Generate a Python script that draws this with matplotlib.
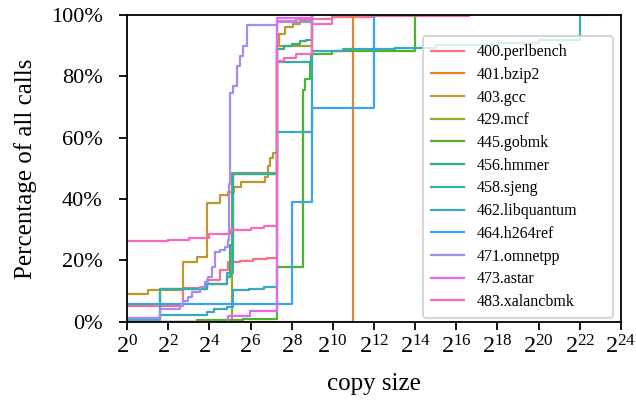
import matplotlib
matplotlib.use("Agg")
import matplotlib.pyplot as plt
from matplotlib.ticker import PercentFormatter, NullLocator
import seaborn as sns

names = ["400.perlbench", "401.bzip2", "403.gcc", "429.mcf", "445.gobmk",
         "456.hmmer", "458.sjeng", "462.libquantum", "464.h264ref",
         "471.omnetpp", "473.astar", "483.xalancbmk"]

perl_x = [1, 6.6, 14.6, 22.8, 30, 45, 70, 110, 154, 300, 1000, 4000, 99000]
perl_y = [5.2, 11, 13.5, 16.8, 19.3, 19.8, 20.3, 20.8, 98, 98.8, 99.3, 99.7, 100]

bzip_x = [1, 2048]
bzip_y = [0, 100]

gcc_x = [1, 2, 6.6, 10.5, 14.6, 22.8, 30, 37, 47, 104, 117, 123, 138, 154, 165, 204, 269, 338, 500]
gcc_y = [9, 10.2, 19.4, 21, 38.6, 41.3, 42.4, 44, 45.5, 47.3, 50.6, 53.3, 55, 90.5, 93.8, 96, 97, 98, 100]

mcf_x = [1, 34, 154, 500]
mcf_y = [0, 48.4, 90, 100]

gobmk_x = [1, 10.4, 50, 100, 154, 377, 400, 474, 495, 983, 16384]
gobmk_y = [0, 0.6, 0.8, 1.0, 17.7, 75.7, 79, 84.6, 87.2, 88.3, 100]

hmmer_x = [1, 3, 14.6, 29, 32, 35, 154, 200, 260, 340, 420, 500]
hmmer_y = [1.2, 10.5, 12.3, 14.5, 25, 48, 89, 89.8, 90.6, 91.4, 92, 100]

sjeng_x = [1, 3, 14.6, 29, 35, 154, 500]
sjeng_y = [0.6, 10.5, 12.3, 16, 48.2, 84.6, 100]

libq_x = [1, 3, 14.6, 19, 28.6, 36, 60, 100, 154, 500, 1450, 8192, 32768,
          262144, 1048576, 4194304, 8388608]
libq_y = [0.9, 2.3, 3.1, 4.1, 4.9, 10.4, 10.8, 11.2, 62, 88.2, 88.8, 89.3, 90.2,
          91, 91.8, 99.9, 100]

h264_x = [1, 256, 500, 4096]
h264_y = [5.8, 39, 69.7, 100]

omnet_x = [1, 3, 6, 6.7, 7.9, 8.8, 11.7, 13.8, 15.5, 17.3, 19.3, 22.9, 27.1, 30.3,
           31.5, 32.5, 35.8, 40, 45, 50.3, 56, 154, 500]
omnet_y = [1.2, 4.1, 5.3, 6.9, 8.2, 9.6, 11.3, 12.9, 14.5, 17.8, 22.7, 23.5, 24.4, 26.6,
           45, 74.6, 76.8, 83.4, 86.7, 90, 96.7, 97.7, 100]

astar_x = [1, 30, 63, 154, 500]
astar_y = [0, 2.0, 3.6, 99, 100]

xalan_x = [1, 4, 8, 16, 32, 64, 100, 154, 200, 300, 500, 983]
xalan_y = [26.2, 26.6, 27.3, 28.5, 29.8, 30.6, 31.3, 85, 86, 87.2, 97, 100]

series_x = [perl_x, bzip_x, gcc_x, mcf_x, gobmk_x, hmmer_x, sjeng_x, libq_x,
            h264_x, omnet_x, astar_x, xalan_x]
series_y = [perl_y, bzip_y, gcc_y, mcf_y, gobmk_y, hmmer_y, sjeng_y, libq_y,
            h264_y, omnet_y, astar_y, xalan_y]

xtick_exps = list(range(0, 25, 2))
ytick_vals = [0, 20, 40, 60, 80, 100]

plt.rcParams['font.family'] = ['Liberation Serif', 'DejaVu Serif']
plt.rcParams['mathtext.fontset'] = 'custom'
plt.rcParams['mathtext.rm'] = 'Liberation Serif'
plt.rcParams['mathtext.it'] = 'Liberation Serif:italic'
plt.rcParams['mathtext.default'] = 'regular'

colors = sns.color_palette("husl", 12)

fig = plt.figure(figsize=(6.36, 4.01), dpi=100)
ax = fig.add_axes([0.1997, 0.1978, 0.7767, 0.7648])

for name, xs, ys, c in zip(names, series_x, series_y, colors):
    ax.step(xs, ys, where='post', color=c, lw=1.6, label=name)

ax.set_xscale('log', base=2)
ax.set_xlim(2 ** 0, 2 ** 24)
ax.set_ylim(0, 100)
ax.set_xticks([2 ** e for e in xtick_exps])
ax.set_xticklabels([f"$2^{{{e}}}$" for e in xtick_exps])
ax.xaxis.set_minor_locator(NullLocator())
ax.set_yticks(ytick_vals)
ax.yaxis.set_major_formatter(PercentFormatter(xmax=100, decimals=0))
ax.tick_params(axis='both', which='major', length=5.5, width=1.3, color='black')
ax.tick_params(axis='x', labelsize=17.5, pad=4)
ax.tick_params(axis='y', labelsize=16, pad=12)
for sp in ax.spines.values():
    sp.set_linewidth(1.3)
    sp.set_color('black')

ax.set_xlabel("copy size", fontsize=18, labelpad=11)
ax.set_ylabel("Percentage of all calls", fontsize=18, labelpad=10)

leg = ax.legend(loc='lower right', bbox_to_anchor=(0.599, 0.012, 0.385, 0.906),
                mode='expand', fontsize=11.5, frameon=True, fancybox=True,
                framealpha=0.8, edgecolor='#cccccc', handlelength=2.1,
                handletextpad=0.75, labelspacing=0.42, borderaxespad=0.0,
                borderpad=0.5)
leg.get_frame().set_linewidth(1.5)

fig.savefig("out.png", dpi=100)
